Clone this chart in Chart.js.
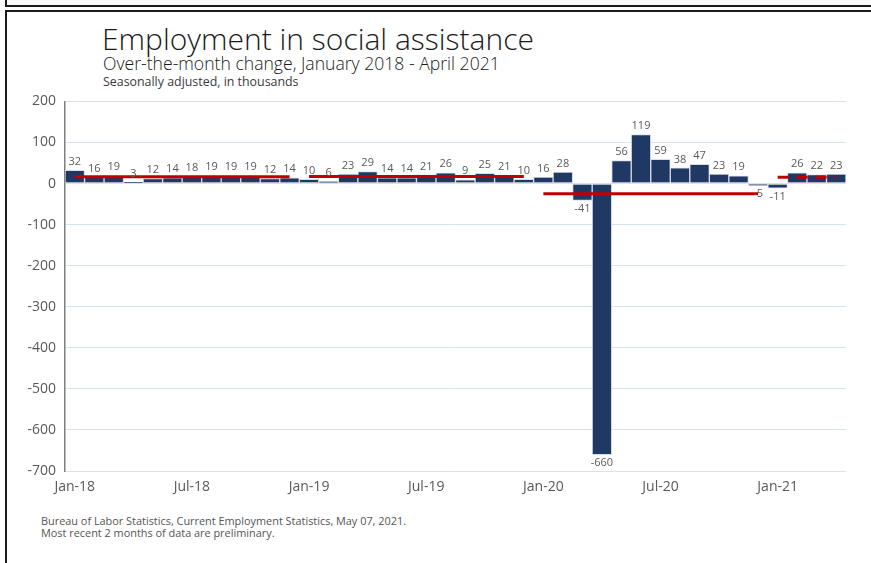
<!DOCTYPE html>
<html>
<head>
<meta charset="utf-8">
<script src="https://cdn.jsdelivr.net/npm/chart.js@4.4.1/dist/chart.umd.min.js"></script>
<style>
  html, body { margin: 0; padding: 0; background: #fff; }
  body { width: 871px; height: 563px; position: relative; overflow: hidden; font-family: "Open Sans", "Noto Sans", sans-serif; }
  .frame-top { position: absolute; left: 5px; top: -20px; width: 900px; height: 23px; border: 2px solid #1c1c1c; }
  .frame { position: absolute; left: 5px; top: 10px; width: 900px; height: 600px; border: 2px solid #1c1c1c; }
  .title { position: absolute; left: 102px; top: 19px; font-size: 30px; line-height: 40px; font-weight: 300; color: #1a1a1a; white-space: nowrap; }
  .subtitle { position: absolute; left: 103px; top: 52px; font-size: 17.6px; line-height: 22px; font-weight: 300; color: #1a1a1a; white-space: nowrap; }
  .note { position: absolute; left: 103px; top: 74px; font-size: 12.4px; line-height: 15px; color: #3a3a3a; white-space: nowrap; }
  .source { position: absolute; left: 41px; top: 515px; font-size: 10.9px; line-height: 12px; color: #555; white-space: nowrap; }
  #wrap { position: absolute; left: 0; top: 84px; width: 871px; height: 425px; }
</style>
</head>
<body>
<div class="frame-top"></div>
<div class="frame"></div>
<div class="title">Employment in social assistance</div>
<div class="subtitle">Over-the-month change, January 2018 - April 2021</div>
<div class="note">Seasonally adjusted, in thousands</div>
<div class="source">Bureau of Labor Statistics, Current Employment Statistics, May 07, 2021.<br>Most recent 2 months of data are preliminary.</div>
<div id="wrap"><canvas id="chart"></canvas></div>
<script>
const MONTHS = [
  "Jan-18", "Feb-18", "Mar-18", "Apr-18", "May-18", "Jun-18", "Jul-18", "Aug-18", "Sep-18", "Oct-18", "Nov-18", "Dec-18",
  "Jan-19", "Feb-19", "Mar-19", "Apr-19", "May-19", "Jun-19", "Jul-19", "Aug-19", "Sep-19", "Oct-19", "Nov-19", "Dec-19",
  "Jan-20", "Feb-20", "Mar-20", "Apr-20", "May-20", "Jun-20", "Jul-20", "Aug-20", "Sep-20", "Oct-20", "Nov-20", "Dec-20",
  "Jan-21", "Feb-21", "Mar-21", "Apr-21",
];

const CHANGE = [
  32, 16, 19, 3, 12, 14, 18, 19, 19, 19, 12, 14,
  10, 6, 23, 29, 14, 14, 21, 26, 9, 25, 21, 10,
  16, 28, -41, -660, 56, 119, 59, 38, 47, 23, 19, -5,
  -11, 26, 22, 23,
];

// yearly average lines: first month, last month, level
const AVG_START = ["Jan-18", "Jan-19", "Jan-20", "Jan-21"];
const AVG_END = ["Dec-18", "Dec-19", "Dec-20", "Apr-21"];
const AVG_VALUE = [16.4, 17.3, -25.1, 15];

const Y_TICKS = [200, 100, 0, -100, -200, -300, -400, -500, -600, -700];
const X_TICK_EVERY = 6;

const NAVY = "#203864";
const RED = "#c00000";
const GREY_TEXT = "#595959";

const avgDatasets = AVG_VALUE.map((v, i) => ({
  type: "line",
  data: [{ x: AVG_START[i], y: v }, { x: AVG_END[i], y: v }],
  borderColor: RED,
  borderWidth: 3,
  borderDash: i === AVG_VALUE.length - 1 ? [11, 8] : [],
  pointRadius: 0,
  order: 0,
}));

// value labels above positive bars, below negative ones
const barLabels = {
  id: "barLabels",
  afterDatasetsDraw(chart) {
    const ctx = chart.ctx;
    const meta = chart.getDatasetMeta(0);
    ctx.save();
    ctx.fillStyle = GREY_TEXT;
    ctx.font = "11px 'Open Sans', sans-serif";
    ctx.textAlign = "center";
    meta.data.forEach((bar, i) => {
      const v = CHANGE[i];
      if (v >= 0) {
        ctx.textBaseline = "bottom";
        ctx.fillText(String(v), bar.x, bar.y - 3);
      } else {
        ctx.textBaseline = "top";
        ctx.fillText(String(v), bar.x, bar.y + 3);
      }
    });
    ctx.restore();
  },
};

new Chart(document.getElementById("chart").getContext("2d"), {
  type: "bar",
  data: {
    labels: MONTHS,
    datasets: [
      {
        data: CHANGE,
        backgroundColor: NAVY,
        borderColor: "#d9dde4",
        borderWidth: 1,
        borderSkipped: false,
        barPercentage: 1,
        categoryPercentage: 1,
        order: 1,
      },
      ...avgDatasets,
    ],
  },
  options: {
    responsive: true,
    maintainAspectRatio: false,
    animation: false,
    layout: { padding: { top: 2, right: 25, left: 0, bottom: 0 } },
    plugins: {
      legend: { display: false },
      tooltip: { enabled: false },
    },
    scales: {
      x: {
        grid: { display: false },
        border: { display: false },
        ticks: {
          autoSkip: false,
          maxRotation: 0,
          color: GREY_TEXT,
          font: { family: "'Open Sans', sans-serif", size: 14 },
          padding: 0,
          callback: (v, i) => (i % X_TICK_EVERY === 0 ? MONTHS[i] : ""),
        },
        afterFit: (s) => { s.height = 38; },
      },
      y: {
        min: -700,
        max: 200,
        afterBuildTicks: (s) => { s.ticks = Y_TICKS.map((v) => ({ value: v })); },
        grid: { color: "#d6e3f1", lineWidth: 1, drawTicks: false },
        border: { color: "#7f7f7f", width: 1.5 },
        ticks: {
          color: GREY_TEXT,
          font: { family: "'Open Sans', sans-serif", size: 14 },
          padding: 9,
        },
        afterFit: (s) => { s.width = 65; },
      },
    },
  },
  plugins: [barLabels],
});
</script>
</body>
</html>
